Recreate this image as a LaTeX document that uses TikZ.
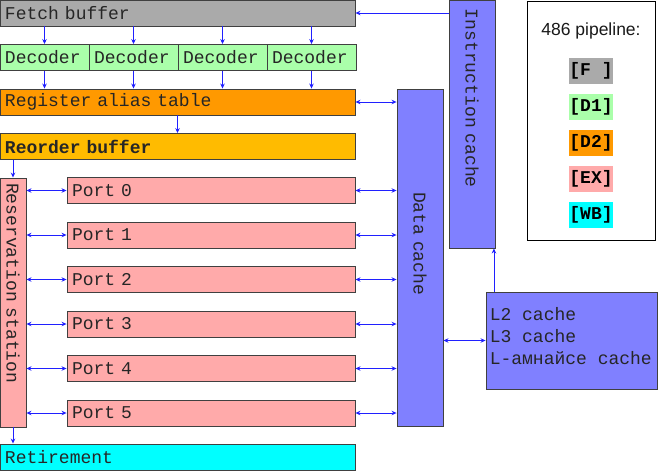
\documentclass[tikz,border=0pt]{standalone}
\usepackage{fontspec}
\newfontfamily\unitfont{Liberation Mono}
\newfontfamily\legendfont{Liberation Sans}
\usetikzlibrary{arrows.meta}
\definecolor{fetchcol}{HTML}{AAAAAA}
\definecolor{deccol}{HTML}{AAFFAA}
\definecolor{ratcol}{HTML}{FF9900}
\definecolor{robcol}{HTML}{FFBB00}
\definecolor{portcol}{HTML}{FFAAAA}
\definecolor{retcol}{HTML}{00FFFF}
\definecolor{cachecol}{HTML}{8080FF}
\definecolor{wire}{HTML}{2020FF}
\definecolor{edge}{HTML}{404040}
\tikzstyle{unit} = [rectangle,
minimum height=26pt,
inner sep=0pt,
align=left,
draw=edge,
line width=0.9pt,
text=black!85,
font=\fontsize{18}{22}\unitfont]
\tikzstyle{wideunit} = [unit,
minimum width=355pt,
text width=345pt]
\tikzstyle{port} = [unit,
fill=portcol,
minimum width=288pt,
text width=278pt]
\tikzstyle{vunit} = [unit,
rotate=-90,
minimum height=46pt,
fill=cachecol]
\tikzstyle{key} = [rectangle,
minimum width=44pt,
minimum height=26pt,
inner sep=0pt,
text=black,
font=\fontsize{18}{22}\unitfont\bfseries]
\tikzstyle{arrow} = [line width=0.9pt, draw=wire, ->, >={Stealth[length=5pt,width=4.5pt]}]
\tikzstyle{biarrow} = [arrow, <->]

\begin{document}
\begin{tikzpicture}[x=1pt, y=-1pt, node distance=44.5pt]
		\useasboundingbox (0,0) rectangle (658,471);
		\node (fetch) [wideunit, fill=fetchcol] at (177.5,13) {Fetch buffer};
		\node (dec1) [unit, fill=deccol, minimum width=89pt, text width=79pt, below of=fetch, xshift=-133pt] {Decoder};
		\node (dec2) [unit, fill=deccol, minimum width=89pt, text width=79pt, right of=dec1, node distance=89pt] {Decoder};
		\node (dec3) [unit, fill=deccol, minimum width=89pt, text width=79pt, right of=dec2, node distance=89pt] {Decoder};
		\node (dec4) [unit, fill=deccol, minimum width=89pt, text width=79pt, right of=dec3, node distance=89pt] {Decoder};
		\node (rat) [wideunit, fill=ratcol, below of=fetch, node distance=89pt] {Register alias table};
		\node (rob) [wideunit, fill=robcol, below of=rat] {\bfseries Reorder buffer};
		\node (rs) [unit, fill=portcol, rotate=-90, minimum width=249pt, text width=239pt] at (13,302.5) {Reservation station};
		\node (port0) [port] at (211,190.5) {Port 0};
		\foreach \i [count=\j from 0] in {1,...,5}
			\node (port\i) [port, below of=port\j] {Port \i};
		\node (ret) [wideunit, fill=retcol] at (177.5,457) {Retirement};
		\node (dcache) [vunit, minimum width=337pt, text width=131pt] at (420,257.5) {Data cache};
		\node (icache) [vunit, minimum width=248pt, text width=230pt] at (472,124) {Instruction cache};
		\node (l2) [unit, fill=cachecol, minimum width=171pt, minimum height=97pt] at (571.5,340.5) {};
		\node (l2text) [anchor=north west, align=left, inner sep=0pt, text=black!85, font=\fontsize{18}{22}\unitfont] at ([xshift=4pt, yshift=-15.5pt]l2.north west) {L2 cache\\L3 cache\\L-амнайсе cache};
	
		% legend
		\node (legend) [rectangle, draw=black, line width=0.9pt, fill=white, minimum width=128pt, minimum height=239pt] at (591,120.5) {};
		\node (title) [font=\fontsize{17.5}{22}\legendfont, text=black!90] at (591,30.5) {486 pipeline:};
		\node (kF) [key, fill=fetchcol, below of=title, node distance=40.5pt] {[F ]};
		\node (kD1) [key, fill=deccol, below of=kF, node distance=36pt] {[D1]};
		\node (kD2) [key, fill=ratcol, below of=kD1, node distance=36pt] {[D2]};
		\node (kEX) [key, fill=portcol, below of=kD2, node distance=36pt] {[EX]};
		\node (kWB) [key, fill=retcol, below of=kEX, node distance=36pt] {[WB]};
	
		\draw [arrow] (icache.south |- fetch.east) -- (fetch.east);
		\foreach \i in {1,...,4} {
			\draw [arrow] (dec\i.north |- fetch.south) -- (dec\i.north);
			\draw [arrow] (dec\i.south) -- (dec\i.south |- rat.north);
		}
		\draw [arrow] (rat) -- (rob);
		\draw [biarrow] (rat.east) -- (rat.east -| dcache.south);
		\draw [arrow] (rs.west |- rob.south) -- (rs.west);
		\foreach \i in {0,...,5} {
			\draw [biarrow] (port\i.west -| rs.north) -- (port\i.west);
			\draw [biarrow] (port\i.east) -- (port\i.east -| dcache.south);
		}
		\draw [arrow] (rs.east) -- (rs.east |- ret.north);
		\draw [biarrow] (dcache.north |- l2.west) -- (l2.west);
	
		\coordinate (icfoot) at ([xshift=-1.5pt]icache.north east);
		\draw [arrow] (icfoot |- l2.north) -- (icfoot);
	\end{tikzpicture}
\end{document}
